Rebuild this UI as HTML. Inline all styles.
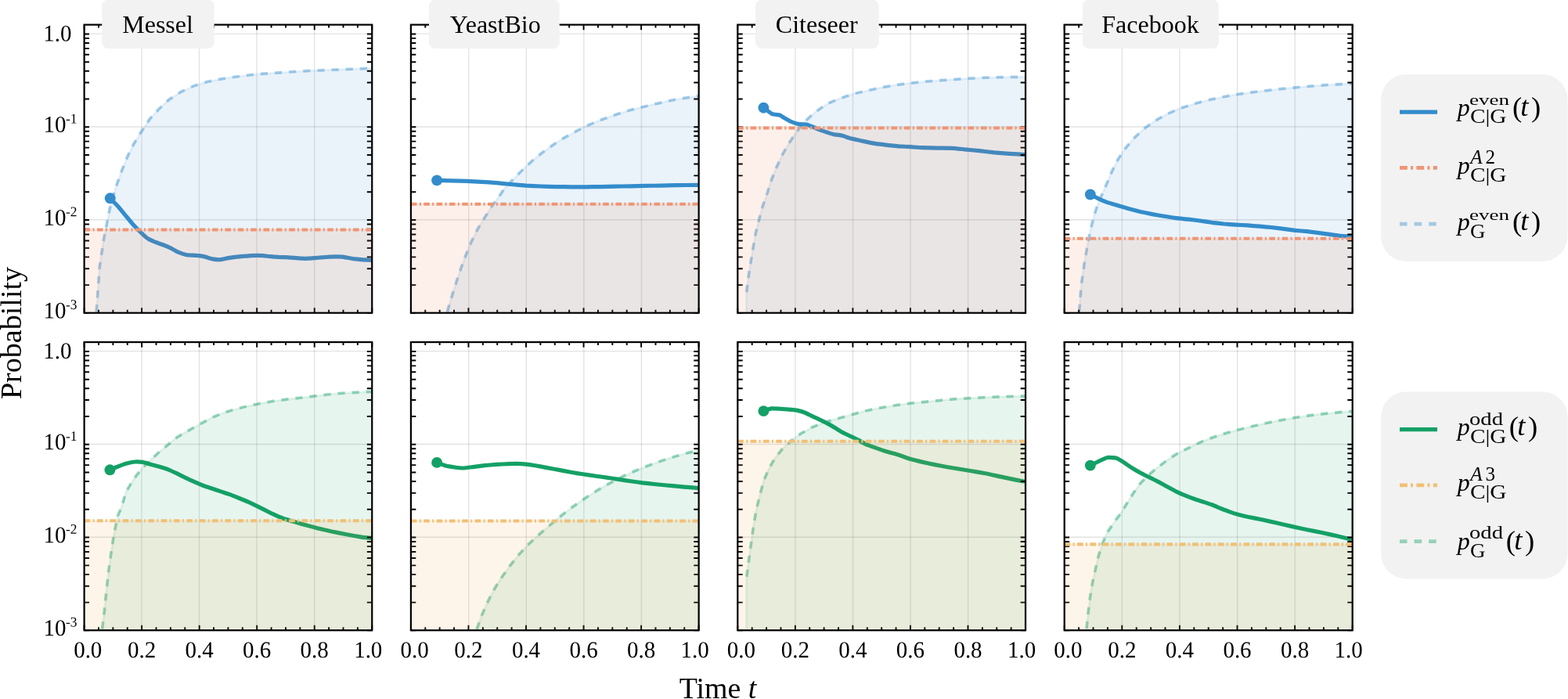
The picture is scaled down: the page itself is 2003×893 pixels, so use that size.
<!DOCTYPE html>
<html lang="en">
<head>
<meta charset="utf-8">
<title>Probability vs Time</title>
<style>
html, body { margin: 0; padding: 0; background: #ffffff; }
body { width: 2003px; height: 893px; overflow: hidden; }
svg { display: block; }
</style>
</head>
<body>
<svg width="2003" height="893" viewBox="0 0 2003 893">
<rect x="0" y="0" width="2003" height="893" fill="#ffffff"/>
<defs>
<clipPath id="cp00"><rect x="107.6" y="31.6" width="367.65" height="368.15"/></clipPath>
<clipPath id="cp01"><rect x="524.9" y="31.6" width="367.75" height="368.15"/></clipPath>
<clipPath id="cp02"><rect x="942.3" y="31.6" width="367.75" height="368.15"/></clipPath>
<clipPath id="cp03"><rect x="1359.7" y="31.6" width="368" height="368.15"/></clipPath>
<clipPath id="cp10"><rect x="107.6" y="437.1" width="367.65" height="368.15"/></clipPath>
<clipPath id="cp11"><rect x="524.9" y="437.1" width="367.75" height="368.15"/></clipPath>
<clipPath id="cp12"><rect x="942.3" y="437.1" width="367.75" height="368.15"/></clipPath>
<clipPath id="cp13"><rect x="1359.7" y="437.1" width="368" height="368.15"/></clipPath>
</defs>
<g clip-path="url(#cp00)">
<path d="M181.03 31.6 V399.75" stroke="#000000" stroke-opacity="0.115" stroke-width="1.35" fill="none"/>
<path d="M254.56 31.6 V399.75" stroke="#000000" stroke-opacity="0.115" stroke-width="1.35" fill="none"/>
<path d="M328.09 31.6 V399.75" stroke="#000000" stroke-opacity="0.115" stroke-width="1.35" fill="none"/>
<path d="M401.62 31.6 V399.75" stroke="#000000" stroke-opacity="0.115" stroke-width="1.35" fill="none"/>
<path d="M107.6 43.15 H475.25" stroke="#000000" stroke-opacity="0.115" stroke-width="1.35" fill="none"/>
<path d="M107.6 161.96 H475.25" stroke="#000000" stroke-opacity="0.115" stroke-width="1.35" fill="none"/>
<path d="M107.6 280.77 H475.25" stroke="#000000" stroke-opacity="0.115" stroke-width="1.35" fill="none"/>
<path d="M122.6 404.75 L122.6 405 L123.2 397.4 L127.2 341 L132.3 306.7 L136.3 286.5 L140.3 266.4 L145.8 246.3 L149.8 234 L155.9 217.2 L163.2 199.3 L171 183.6 L180 169 L184 163 L191.4 151.9 L202.8 139.5 L216.1 127.1 L231.4 117.2 L248.5 109.4 L265.6 104.3 L282.8 100.8 L301.8 98 L328.4 94.7 L357 92.8 L385.6 90.9 L414.1 89.6 L442.7 88.5 L475.2 87.2 L475.2 404.75 Z" fill="#338ccb" fill-opacity="0.1" stroke="#338ccb" stroke-opacity="0.1" stroke-width="2.8" stroke-linejoin="round"/>
<path d="M140.7 253.3 C141.28 253.9 149.21 261.97 150.4 263.3 C151.59 264.63 159.29 273.95 160.5 275.4 C161.71 276.85 169.39 286.17 170.6 287.5 C171.81 288.83 179.51 296.57 180.6 297.6 C181.69 298.63 187.73 304.03 188.7 304.7 C189.67 305.37 195.71 308.24 196.8 308.7 C197.89 309.16 205.69 311.84 206.9 312.3 C208.11 312.76 215.81 315.89 216.9 316.4 C217.99 316.91 224.15 320.38 225 320.8 C225.85 321.22 230.15 323.1 231 323.4 C231.85 323.7 237.89 325.63 239.1 325.8 C240.31 325.97 249.87 326.17 251.2 326.3 C252.53 326.43 260.09 327.62 261.3 327.9 C262.51 328.18 270.19 330.67 271.4 330.9 C272.61 331.13 280.38 331.76 281.5 331.7 C282.62 331.64 288.98 330.1 290.1 329.9 C291.22 329.7 298.99 328.55 300.2 328.4 C301.41 328.25 308.99 327.5 310.2 327.4 C311.41 327.3 319.21 326.76 320.3 326.7 C321.39 326.64 327.43 326.4 328.4 326.4 C329.37 326.4 335.47 326.62 336.5 326.7 C337.53 326.78 344.35 327.6 345.5 327.7 C346.65 327.8 354.39 328.34 355.6 328.4 C356.81 328.46 364.49 328.64 365.7 328.7 C366.91 328.76 374.59 329.31 375.8 329.4 C377.01 329.49 384.71 330.15 385.8 330.2 C386.89 330.25 392.93 330.24 393.9 330.2 C394.87 330.16 400.97 329.68 402 329.6 C403.03 329.52 409.85 328.99 411 328.9 C412.15 328.81 420.01 328.17 421.1 328.1 C422.19 328.03 428.23 327.8 429.2 327.8 C430.17 327.8 436.45 328.02 437.3 328.1 C438.15 328.18 442.45 329.05 443.3 329.2 C444.15 329.35 450.31 330.45 451.4 330.6 C452.49 330.75 460.29 331.6 461.5 331.7 C462.71 331.8 470.68 332.16 471.5 332.2 C472.32 332.24 474.98 332.39 475.2 332.4" stroke="#338ccb" stroke-width="5.2" fill="none" stroke-linejoin="round" stroke-linecap="butt"/>
<circle cx="140.7" cy="253.3" r="6.95" fill="#338ccb"/>
<path d="M122.6 405 L123.2 397.4 L127.2 341 L132.3 306.7 L136.3 286.5 L140.3 266.4 L145.8 246.3 L149.8 234 L155.9 217.2 L163.2 199.3 L171 183.6 L180 169 L184 163 L191.4 151.9 L202.8 139.5 L216.1 127.1 L231.4 117.2 L248.5 109.4 L265.6 104.3 L282.8 100.8 L301.8 98 L328.4 94.7 L357 92.8 L385.6 90.9 L414.1 89.6 L442.7 88.5 L475.2 87.2" stroke="#338ccb" stroke-opacity="0.41" stroke-width="3.7" stroke-dasharray="9.2 8.95" stroke-dashoffset="-6.65" fill="none" stroke-linejoin="round"/>
</g>
<path d="M107.6 399.75 v-6.6 M107.6 31.6 v6.6 M125.98 399.75 v-3.9 M125.98 31.6 v3.9 M144.37 399.75 v-3.9 M144.37 31.6 v3.9 M162.75 399.75 v-3.9 M162.75 31.6 v3.9 M181.13 399.75 v-6.6 M181.13 31.6 v6.6 M199.51 399.75 v-3.9 M199.51 31.6 v3.9 M217.89 399.75 v-3.9 M217.89 31.6 v3.9 M236.28 399.75 v-3.9 M236.28 31.6 v3.9 M254.66 399.75 v-6.6 M254.66 31.6 v6.6 M273.04 399.75 v-3.9 M273.04 31.6 v3.9 M291.42 399.75 v-3.9 M291.42 31.6 v3.9 M309.81 399.75 v-3.9 M309.81 31.6 v3.9 M328.19 399.75 v-6.6 M328.19 31.6 v6.6 M346.57 399.75 v-3.9 M346.57 31.6 v3.9 M364.96 399.75 v-3.9 M364.96 31.6 v3.9 M383.34 399.75 v-3.9 M383.34 31.6 v3.9 M401.72 399.75 v-6.6 M401.72 31.6 v6.6 M420.1 399.75 v-3.9 M420.1 31.6 v3.9 M438.49 399.75 v-3.9 M438.49 31.6 v3.9 M456.87 399.75 v-3.9 M456.87 31.6 v3.9 M475.25 399.75 v-6.6 M475.25 31.6 v6.6 M107.6 43.45 h6.4 M475.25 43.45 h-6.4 M107.6 162.26 h6.4 M475.25 162.26 h-6.4 M107.6 126.49 h6.4 M475.25 126.49 h-6.4 M107.6 105.57 h6.4 M475.25 105.57 h-6.4 M107.6 90.73 h6.4 M475.25 90.73 h-6.4 M107.6 79.22 h6.4 M475.25 79.22 h-6.4 M107.6 69.81 h6.4 M475.25 69.81 h-6.4 M107.6 61.85 h6.4 M475.25 61.85 h-6.4 M107.6 54.96 h6.4 M475.25 54.96 h-6.4 M107.6 48.89 h6.4 M475.25 48.89 h-6.4 M107.6 281.07 h6.4 M475.25 281.07 h-6.4 M107.6 245.3 h6.4 M475.25 245.3 h-6.4 M107.6 224.38 h6.4 M475.25 224.38 h-6.4 M107.6 209.54 h6.4 M475.25 209.54 h-6.4 M107.6 198.03 h6.4 M475.25 198.03 h-6.4 M107.6 188.62 h6.4 M475.25 188.62 h-6.4 M107.6 180.66 h6.4 M475.25 180.66 h-6.4 M107.6 173.77 h6.4 M475.25 173.77 h-6.4 M107.6 167.7 h6.4 M475.25 167.7 h-6.4 M107.6 399.88 h6.4 M475.25 399.88 h-6.4 M107.6 364.11 h6.4 M475.25 364.11 h-6.4 M107.6 343.19 h6.4 M475.25 343.19 h-6.4 M107.6 328.35 h6.4 M475.25 328.35 h-6.4 M107.6 316.84 h6.4 M475.25 316.84 h-6.4 M107.6 307.43 h6.4 M475.25 307.43 h-6.4 M107.6 299.47 h6.4 M475.25 299.47 h-6.4 M107.6 292.58 h6.4 M475.25 292.58 h-6.4 M107.6 286.51 h6.4 M475.25 286.51 h-6.4" stroke="#000000" stroke-width="1.9" fill="none"/>
<g clip-path="url(#cp00)">
<rect x="107.6" y="293.5" width="367.65" height="106.25" fill="#e86e32" fill-opacity="0.1"/>
<path d="M107.6 293.5 H475.25" stroke="#e86e32" stroke-opacity="0.1" stroke-width="2.8" fill="none"/>
<path d="M107.6 293.5 H475.25" stroke="#ef9573" stroke-width="4.05" stroke-dasharray="7.55 3.35 2.05 3.4" stroke-dashoffset="0" fill="none"/>
</g>
<rect x="107.6" y="31.6" width="367.65" height="368.15" fill="none" stroke="#000000" stroke-width="2.2"/>
<g clip-path="url(#cp01)">
<path d="M598.75 31.6 V399.75" stroke="#000000" stroke-opacity="0.115" stroke-width="1.35" fill="none"/>
<path d="M672.3 31.6 V399.75" stroke="#000000" stroke-opacity="0.115" stroke-width="1.35" fill="none"/>
<path d="M745.85 31.6 V399.75" stroke="#000000" stroke-opacity="0.115" stroke-width="1.35" fill="none"/>
<path d="M819.4 31.6 V399.75" stroke="#000000" stroke-opacity="0.115" stroke-width="1.35" fill="none"/>
<path d="M524.9 43.15 H892.65" stroke="#000000" stroke-opacity="0.115" stroke-width="1.35" fill="none"/>
<path d="M524.9 161.96 H892.65" stroke="#000000" stroke-opacity="0.115" stroke-width="1.35" fill="none"/>
<path d="M524.9 280.77 H892.65" stroke="#000000" stroke-opacity="0.115" stroke-width="1.35" fill="none"/>
<path d="M569.3 404.75 L569.3 405 L571.4 397.9 L577.1 378.9 L582.8 360.8 L588.5 343.7 L595.2 325.6 L601.8 309.5 L610.4 292.3 L619 278.1 L629.4 261.9 L639.9 247.6 L643.7 241.8 L653.3 231.4 L662.8 221.8 L672.3 212.3 L681.8 203.8 L691.3 196.1 L700.9 189.1 L710.4 182.4 L719.9 176.5 L729.4 171.4 L738.9 166.2 L748.4 161.3 L758 157.1 L767.5 153.3 L777 149.9 L786.5 146.6 L796 143.4 L805.6 140.5 L815.1 138.1 L824.6 135.8 L834.1 133.5 L843.6 131.4 L853.1 129.1 L862.7 127.2 L872.2 125.7 L881.7 124.2 L892.4 122.6 L892.4 404.75 Z" fill="#338ccb" fill-opacity="0.1" stroke="#338ccb" stroke-opacity="0.1" stroke-width="2.8" stroke-linejoin="round"/>
<path d="M558.1 230.4 C559.24 230.42 574.82 230.74 577.1 230.8 C579.38 230.86 593.81 231.31 596.1 231.4 C598.39 231.49 612.91 232.17 615.2 232.3 C617.49 232.43 631.91 233.41 634.2 233.6 C636.49 233.79 651.01 235.29 653.3 235.5 C655.59 235.71 670.02 236.95 672.3 237.1 C674.58 237.25 689.01 237.91 691.3 238 C693.59 238.09 708.11 238.55 710.4 238.6 C712.69 238.65 727.12 238.79 729.4 238.8 C731.68 238.81 746.11 238.81 748.4 238.8 C750.69 238.79 765.21 238.64 767.5 238.6 C769.79 238.56 784.21 238.25 786.5 238.2 C788.79 238.15 803.31 237.85 805.6 237.8 C807.89 237.75 822.32 237.44 824.6 237.4 C826.88 237.36 841.31 237.14 843.6 237.1 C845.89 237.06 859.77 236.75 862.7 236.7 C865.63 236.65 890.62 236.32 892.4 236.3" stroke="#338ccb" stroke-width="5.2" fill="none" stroke-linejoin="round" stroke-linecap="butt"/>
<circle cx="558.1" cy="230.4" r="6.95" fill="#338ccb"/>
<path d="M569.3 405 L571.4 397.9 L577.1 378.9 L582.8 360.8 L588.5 343.7 L595.2 325.6 L601.8 309.5 L610.4 292.3 L619 278.1 L629.4 261.9 L639.9 247.6 L643.7 241.8 L653.3 231.4 L662.8 221.8 L672.3 212.3 L681.8 203.8 L691.3 196.1 L700.9 189.1 L710.4 182.4 L719.9 176.5 L729.4 171.4 L738.9 166.2 L748.4 161.3 L758 157.1 L767.5 153.3 L777 149.9 L786.5 146.6 L796 143.4 L805.6 140.5 L815.1 138.1 L824.6 135.8 L834.1 133.5 L843.6 131.4 L853.1 129.1 L862.7 127.2 L872.2 125.7 L881.7 124.2 L892.4 122.6" stroke="#338ccb" stroke-opacity="0.41" stroke-width="3.7" stroke-dasharray="9.2 8.95" stroke-dashoffset="-7" fill="none" stroke-linejoin="round"/>
</g>
<path d="M524.9 399.75 v-6.6 M524.9 31.6 v6.6 M543.29 399.75 v-3.9 M543.29 31.6 v3.9 M561.67 399.75 v-3.9 M561.67 31.6 v3.9 M580.06 399.75 v-3.9 M580.06 31.6 v3.9 M598.45 399.75 v-6.6 M598.45 31.6 v6.6 M616.84 399.75 v-3.9 M616.84 31.6 v3.9 M635.22 399.75 v-3.9 M635.22 31.6 v3.9 M653.61 399.75 v-3.9 M653.61 31.6 v3.9 M672 399.75 v-6.6 M672 31.6 v6.6 M690.39 399.75 v-3.9 M690.39 31.6 v3.9 M708.77 399.75 v-3.9 M708.77 31.6 v3.9 M727.16 399.75 v-3.9 M727.16 31.6 v3.9 M745.55 399.75 v-6.6 M745.55 31.6 v6.6 M763.94 399.75 v-3.9 M763.94 31.6 v3.9 M782.33 399.75 v-3.9 M782.33 31.6 v3.9 M800.71 399.75 v-3.9 M800.71 31.6 v3.9 M819.1 399.75 v-6.6 M819.1 31.6 v6.6 M837.49 399.75 v-3.9 M837.49 31.6 v3.9 M855.88 399.75 v-3.9 M855.88 31.6 v3.9 M874.26 399.75 v-3.9 M874.26 31.6 v3.9 M892.65 399.75 v-6.6 M892.65 31.6 v6.6 M524.9 43.45 h6.4 M892.65 43.45 h-6.4 M524.9 162.26 h6.4 M892.65 162.26 h-6.4 M524.9 126.49 h6.4 M892.65 126.49 h-6.4 M524.9 105.57 h6.4 M892.65 105.57 h-6.4 M524.9 90.73 h6.4 M892.65 90.73 h-6.4 M524.9 79.22 h6.4 M892.65 79.22 h-6.4 M524.9 69.81 h6.4 M892.65 69.81 h-6.4 M524.9 61.85 h6.4 M892.65 61.85 h-6.4 M524.9 54.96 h6.4 M892.65 54.96 h-6.4 M524.9 48.89 h6.4 M892.65 48.89 h-6.4 M524.9 281.07 h6.4 M892.65 281.07 h-6.4 M524.9 245.3 h6.4 M892.65 245.3 h-6.4 M524.9 224.38 h6.4 M892.65 224.38 h-6.4 M524.9 209.54 h6.4 M892.65 209.54 h-6.4 M524.9 198.03 h6.4 M892.65 198.03 h-6.4 M524.9 188.62 h6.4 M892.65 188.62 h-6.4 M524.9 180.66 h6.4 M892.65 180.66 h-6.4 M524.9 173.77 h6.4 M892.65 173.77 h-6.4 M524.9 167.7 h6.4 M892.65 167.7 h-6.4 M524.9 399.88 h6.4 M892.65 399.88 h-6.4 M524.9 364.11 h6.4 M892.65 364.11 h-6.4 M524.9 343.19 h6.4 M892.65 343.19 h-6.4 M524.9 328.35 h6.4 M892.65 328.35 h-6.4 M524.9 316.84 h6.4 M892.65 316.84 h-6.4 M524.9 307.43 h6.4 M892.65 307.43 h-6.4 M524.9 299.47 h6.4 M892.65 299.47 h-6.4 M524.9 292.58 h6.4 M892.65 292.58 h-6.4 M524.9 286.51 h6.4 M892.65 286.51 h-6.4" stroke="#000000" stroke-width="1.9" fill="none"/>
<g clip-path="url(#cp01)">
<rect x="524.9" y="260.7" width="367.75" height="139.05" fill="#e86e32" fill-opacity="0.1"/>
<path d="M524.9 260.7 H892.65" stroke="#e86e32" stroke-opacity="0.1" stroke-width="2.8" fill="none"/>
<path d="M524.9 260.7 H892.65" stroke="#ef9573" stroke-width="4.05" stroke-dasharray="7.55 3.35 2.05 3.4" stroke-dashoffset="0" fill="none"/>
</g>
<rect x="524.9" y="31.6" width="367.75" height="368.15" fill="none" stroke="#000000" stroke-width="2.2"/>
<g clip-path="url(#cp02)">
<path d="M1015.95 31.6 V399.75" stroke="#000000" stroke-opacity="0.115" stroke-width="1.35" fill="none"/>
<path d="M1089.5 31.6 V399.75" stroke="#000000" stroke-opacity="0.115" stroke-width="1.35" fill="none"/>
<path d="M1163.05 31.6 V399.75" stroke="#000000" stroke-opacity="0.115" stroke-width="1.35" fill="none"/>
<path d="M1236.6 31.6 V399.75" stroke="#000000" stroke-opacity="0.115" stroke-width="1.35" fill="none"/>
<path d="M942.3 43.15 H1310.05" stroke="#000000" stroke-opacity="0.115" stroke-width="1.35" fill="none"/>
<path d="M942.3 161.96 H1310.05" stroke="#000000" stroke-opacity="0.115" stroke-width="1.35" fill="none"/>
<path d="M942.3 280.77 H1310.05" stroke="#000000" stroke-opacity="0.115" stroke-width="1.35" fill="none"/>
<path d="M953.5 404.75 L953.5 374.2 L956.2 353 L959.2 333.8 L962.2 315.7 L965.2 298.5 L969.7 280.4 L974.3 263.3 L980.4 246.1 L984.5 232.3 L992.1 213.3 L999.7 197.1 L1007.3 183.7 L1015 172.3 L1022.6 161.9 L1030.2 153.3 L1039.7 144.7 L1049.2 137.7 L1058.7 131.8 L1068.3 127.6 L1079.7 123.4 L1091.1 119.6 L1106.3 116.2 L1125.4 111.8 L1144.4 108.6 L1163.4 106.1 L1182.5 104.2 L1201.5 102.7 L1220.6 101.3 L1239.6 100.2 L1258.6 99.2 L1277.7 98.7 L1309.6 98.1 L1309.6 404.75 Z" fill="#338ccb" fill-opacity="0.1" stroke="#338ccb" stroke-opacity="0.1" stroke-width="2.8" stroke-linejoin="round"/>
<path d="M975.4 137.7 C976.06 138.18 985.17 145.14 986.4 145.7 C987.63 146.26 994.99 146.72 995.9 147 C996.81 147.28 1000.69 149.88 1001.6 150.4 C1002.51 150.92 1009.95 155.11 1011.1 155.6 C1012.25 156.09 1019.55 158.4 1020.7 158.6 C1021.85 158.8 1029.17 158.8 1030.2 159 C1031.23 159.2 1036.66 161.44 1037.8 161.9 C1038.94 162.36 1047.6 166.03 1049.2 166.6 C1050.8 167.17 1062.8 171 1064.4 171.4 C1066 171.8 1074.53 172.96 1075.9 173.3 C1077.27 173.64 1085.7 176.68 1087.3 177.1 C1088.9 177.52 1100.67 179.92 1102.5 180.3 C1104.33 180.68 1115.97 183.1 1117.8 183.4 C1119.63 183.7 1131.18 185.1 1133 185.3 C1134.82 185.5 1146.38 186.66 1148.2 186.8 C1150.02 186.94 1161.57 187.59 1163.4 187.7 C1165.23 187.81 1176.64 188.62 1178.7 188.7 C1180.76 188.78 1195.42 189.06 1197.7 189.1 C1199.98 189.14 1214.64 189.2 1216.7 189.3 C1218.76 189.4 1229.94 190.6 1232 190.8 C1234.06 191 1248.72 192.46 1251 192.7 C1253.28 192.94 1267.71 194.58 1270 194.8 C1272.29 195.02 1286.72 196.13 1289.1 196.3 C1291.48 196.47 1308.37 197.52 1309.6 197.6" stroke="#338ccb" stroke-width="5.2" fill="none" stroke-linejoin="round" stroke-linecap="butt"/>
<circle cx="975.4" cy="137.7" r="6.95" fill="#338ccb"/>
<path d="M953.5 374.2 L956.2 353 L959.2 333.8 L962.2 315.7 L965.2 298.5 L969.7 280.4 L974.3 263.3 L980.4 246.1 L984.5 232.3 L992.1 213.3 L999.7 197.1 L1007.3 183.7 L1015 172.3 L1022.6 161.9 L1030.2 153.3 L1039.7 144.7 L1049.2 137.7 L1058.7 131.8 L1068.3 127.6 L1079.7 123.4 L1091.1 119.6 L1106.3 116.2 L1125.4 111.8 L1144.4 108.6 L1163.4 106.1 L1182.5 104.2 L1201.5 102.7 L1220.6 101.3 L1239.6 100.2 L1258.6 99.2 L1277.7 98.7 L1309.6 98.1" stroke="#338ccb" stroke-opacity="0.41" stroke-width="3.7" stroke-dasharray="9.2 8.95" stroke-dashoffset="-1" fill="none" stroke-linejoin="round"/>
</g>
<path d="M942.3 399.75 v-6.6 M942.3 31.6 v6.6 M960.69 399.75 v-3.9 M960.69 31.6 v3.9 M979.07 399.75 v-3.9 M979.07 31.6 v3.9 M997.46 399.75 v-3.9 M997.46 31.6 v3.9 M1015.85 399.75 v-6.6 M1015.85 31.6 v6.6 M1034.24 399.75 v-3.9 M1034.24 31.6 v3.9 M1052.62 399.75 v-3.9 M1052.62 31.6 v3.9 M1071.01 399.75 v-3.9 M1071.01 31.6 v3.9 M1089.4 399.75 v-6.6 M1089.4 31.6 v6.6 M1107.79 399.75 v-3.9 M1107.79 31.6 v3.9 M1126.17 399.75 v-3.9 M1126.17 31.6 v3.9 M1144.56 399.75 v-3.9 M1144.56 31.6 v3.9 M1162.95 399.75 v-6.6 M1162.95 31.6 v6.6 M1181.34 399.75 v-3.9 M1181.34 31.6 v3.9 M1199.72 399.75 v-3.9 M1199.72 31.6 v3.9 M1218.11 399.75 v-3.9 M1218.11 31.6 v3.9 M1236.5 399.75 v-6.6 M1236.5 31.6 v6.6 M1254.89 399.75 v-3.9 M1254.89 31.6 v3.9 M1273.27 399.75 v-3.9 M1273.27 31.6 v3.9 M1291.66 399.75 v-3.9 M1291.66 31.6 v3.9 M1310.05 399.75 v-6.6 M1310.05 31.6 v6.6 M942.3 43.45 h6.4 M1310.05 43.45 h-6.4 M942.3 162.26 h6.4 M1310.05 162.26 h-6.4 M942.3 126.49 h6.4 M1310.05 126.49 h-6.4 M942.3 105.57 h6.4 M1310.05 105.57 h-6.4 M942.3 90.73 h6.4 M1310.05 90.73 h-6.4 M942.3 79.22 h6.4 M1310.05 79.22 h-6.4 M942.3 69.81 h6.4 M1310.05 69.81 h-6.4 M942.3 61.85 h6.4 M1310.05 61.85 h-6.4 M942.3 54.96 h6.4 M1310.05 54.96 h-6.4 M942.3 48.89 h6.4 M1310.05 48.89 h-6.4 M942.3 281.07 h6.4 M1310.05 281.07 h-6.4 M942.3 245.3 h6.4 M1310.05 245.3 h-6.4 M942.3 224.38 h6.4 M1310.05 224.38 h-6.4 M942.3 209.54 h6.4 M1310.05 209.54 h-6.4 M942.3 198.03 h6.4 M1310.05 198.03 h-6.4 M942.3 188.62 h6.4 M1310.05 188.62 h-6.4 M942.3 180.66 h6.4 M1310.05 180.66 h-6.4 M942.3 173.77 h6.4 M1310.05 173.77 h-6.4 M942.3 167.7 h6.4 M1310.05 167.7 h-6.4 M942.3 399.88 h6.4 M1310.05 399.88 h-6.4 M942.3 364.11 h6.4 M1310.05 364.11 h-6.4 M942.3 343.19 h6.4 M1310.05 343.19 h-6.4 M942.3 328.35 h6.4 M1310.05 328.35 h-6.4 M942.3 316.84 h6.4 M1310.05 316.84 h-6.4 M942.3 307.43 h6.4 M1310.05 307.43 h-6.4 M942.3 299.47 h6.4 M1310.05 299.47 h-6.4 M942.3 292.58 h6.4 M1310.05 292.58 h-6.4 M942.3 286.51 h6.4 M1310.05 286.51 h-6.4" stroke="#000000" stroke-width="1.9" fill="none"/>
<g clip-path="url(#cp02)">
<rect x="942.3" y="163.4" width="367.75" height="236.35" fill="#e86e32" fill-opacity="0.1"/>
<path d="M942.3 163.4 H1310.05" stroke="#e86e32" stroke-opacity="0.1" stroke-width="2.8" fill="none"/>
<path d="M942.3 163.4 H1310.05" stroke="#ef9573" stroke-width="4.05" stroke-dasharray="7.55 3.35 2.05 3.4" stroke-dashoffset="0" fill="none"/>
</g>
<rect x="942.3" y="31.6" width="367.75" height="368.15" fill="none" stroke="#000000" stroke-width="2.2"/>
<g clip-path="url(#cp03)">
<path d="M1433.4 31.6 V399.75" stroke="#000000" stroke-opacity="0.115" stroke-width="1.35" fill="none"/>
<path d="M1507 31.6 V399.75" stroke="#000000" stroke-opacity="0.115" stroke-width="1.35" fill="none"/>
<path d="M1580.6 31.6 V399.75" stroke="#000000" stroke-opacity="0.115" stroke-width="1.35" fill="none"/>
<path d="M1654.2 31.6 V399.75" stroke="#000000" stroke-opacity="0.115" stroke-width="1.35" fill="none"/>
<path d="M1359.7 43.15 H1727.7" stroke="#000000" stroke-opacity="0.115" stroke-width="1.35" fill="none"/>
<path d="M1359.7 161.96 H1727.7" stroke="#000000" stroke-opacity="0.115" stroke-width="1.35" fill="none"/>
<path d="M1359.7 280.77 H1727.7" stroke="#000000" stroke-opacity="0.115" stroke-width="1.35" fill="none"/>
<path d="M1378.1 404.75 L1378.1 405 L1378.6 397.5 L1381.4 363.3 L1385.2 336.6 L1389 313.8 L1392.8 294.7 L1397.6 275.7 L1402.4 260.5 L1407.1 250 L1412.8 237.1 L1420.4 219 L1428.1 203.7 L1437.6 189.5 L1449 176.1 L1462.3 163.8 L1475.6 154.2 L1490.9 145.7 L1506.1 139 L1521.3 133.9 L1540.4 128.5 L1559.4 124.4 L1578.4 120.9 L1597.5 118.1 L1616.5 115.8 L1635.6 113.7 L1654.6 111.8 L1673.6 110.1 L1692.7 108.7 L1711.7 107.6 L1726.8 106.7 L1726.8 404.75 Z" fill="#338ccb" fill-opacity="0.1" stroke="#338ccb" stroke-opacity="0.1" stroke-width="2.8" stroke-linejoin="round"/>
<path d="M1392.8 248.5 C1393.43 248.82 1401.99 253.19 1403.3 253.8 C1404.61 254.41 1413.33 258.11 1414.7 258.6 C1416.07 259.09 1424.5 261.52 1426.1 262 C1427.7 262.48 1439.57 266.09 1441.4 266.6 C1443.23 267.11 1454.78 270.08 1456.6 270.5 C1458.42 270.92 1469.97 273.25 1471.8 273.6 C1473.63 273.95 1485.27 275.99 1487.1 276.3 C1488.93 276.61 1500.48 278.47 1502.3 278.7 C1504.12 278.93 1515.67 279.9 1517.5 280.1 C1519.33 280.3 1530.97 281.75 1532.8 282 C1534.63 282.25 1546.18 284.06 1548 284.3 C1549.82 284.54 1561.38 285.83 1563.2 286 C1565.02 286.17 1576.57 286.99 1578.4 287.1 C1580.23 287.21 1591.87 287.77 1593.7 287.9 C1595.53 288.03 1607.08 289.04 1608.9 289.2 C1610.72 289.36 1622.27 290.31 1624.1 290.5 C1625.93 290.69 1637.57 292.17 1639.4 292.4 C1641.23 292.63 1652.78 294.1 1654.6 294.3 C1656.42 294.5 1667.98 295.5 1669.8 295.7 C1671.62 295.9 1683.17 297.36 1685 297.6 C1686.83 297.84 1698.7 299.47 1700.3 299.7 C1701.9 299.93 1710.11 301.24 1711.7 301.4 C1713.29 301.56 1725.89 302.25 1726.8 302.3" stroke="#338ccb" stroke-width="5.2" fill="none" stroke-linejoin="round" stroke-linecap="butt"/>
<circle cx="1392.8" cy="248.5" r="6.95" fill="#338ccb"/>
<path d="M1378.1 405 L1378.6 397.5 L1381.4 363.3 L1385.2 336.6 L1389 313.8 L1392.8 294.7 L1397.6 275.7 L1402.4 260.5 L1407.1 250 L1412.8 237.1 L1420.4 219 L1428.1 203.7 L1437.6 189.5 L1449 176.1 L1462.3 163.8 L1475.6 154.2 L1490.9 145.7 L1506.1 139 L1521.3 133.9 L1540.4 128.5 L1559.4 124.4 L1578.4 120.9 L1597.5 118.1 L1616.5 115.8 L1635.6 113.7 L1654.6 111.8 L1673.6 110.1 L1692.7 108.7 L1711.7 107.6 L1726.8 106.7" stroke="#338ccb" stroke-opacity="0.41" stroke-width="3.7" stroke-dasharray="9.2 8.95" stroke-dashoffset="-7" fill="none" stroke-linejoin="round"/>
</g>
<path d="M1359.7 399.75 v-6.6 M1359.7 31.6 v6.6 M1378.1 399.75 v-3.9 M1378.1 31.6 v3.9 M1396.5 399.75 v-3.9 M1396.5 31.6 v3.9 M1414.9 399.75 v-3.9 M1414.9 31.6 v3.9 M1433.3 399.75 v-6.6 M1433.3 31.6 v6.6 M1451.7 399.75 v-3.9 M1451.7 31.6 v3.9 M1470.1 399.75 v-3.9 M1470.1 31.6 v3.9 M1488.5 399.75 v-3.9 M1488.5 31.6 v3.9 M1506.9 399.75 v-6.6 M1506.9 31.6 v6.6 M1525.3 399.75 v-3.9 M1525.3 31.6 v3.9 M1543.7 399.75 v-3.9 M1543.7 31.6 v3.9 M1562.1 399.75 v-3.9 M1562.1 31.6 v3.9 M1580.5 399.75 v-6.6 M1580.5 31.6 v6.6 M1598.9 399.75 v-3.9 M1598.9 31.6 v3.9 M1617.3 399.75 v-3.9 M1617.3 31.6 v3.9 M1635.7 399.75 v-3.9 M1635.7 31.6 v3.9 M1654.1 399.75 v-6.6 M1654.1 31.6 v6.6 M1672.5 399.75 v-3.9 M1672.5 31.6 v3.9 M1690.9 399.75 v-3.9 M1690.9 31.6 v3.9 M1709.3 399.75 v-3.9 M1709.3 31.6 v3.9 M1727.7 399.75 v-6.6 M1727.7 31.6 v6.6 M1359.7 43.45 h6.4 M1727.7 43.45 h-6.4 M1359.7 162.26 h6.4 M1727.7 162.26 h-6.4 M1359.7 126.49 h6.4 M1727.7 126.49 h-6.4 M1359.7 105.57 h6.4 M1727.7 105.57 h-6.4 M1359.7 90.73 h6.4 M1727.7 90.73 h-6.4 M1359.7 79.22 h6.4 M1727.7 79.22 h-6.4 M1359.7 69.81 h6.4 M1727.7 69.81 h-6.4 M1359.7 61.85 h6.4 M1727.7 61.85 h-6.4 M1359.7 54.96 h6.4 M1727.7 54.96 h-6.4 M1359.7 48.89 h6.4 M1727.7 48.89 h-6.4 M1359.7 281.07 h6.4 M1727.7 281.07 h-6.4 M1359.7 245.3 h6.4 M1727.7 245.3 h-6.4 M1359.7 224.38 h6.4 M1727.7 224.38 h-6.4 M1359.7 209.54 h6.4 M1727.7 209.54 h-6.4 M1359.7 198.03 h6.4 M1727.7 198.03 h-6.4 M1359.7 188.62 h6.4 M1727.7 188.62 h-6.4 M1359.7 180.66 h6.4 M1727.7 180.66 h-6.4 M1359.7 173.77 h6.4 M1727.7 173.77 h-6.4 M1359.7 167.7 h6.4 M1727.7 167.7 h-6.4 M1359.7 399.88 h6.4 M1727.7 399.88 h-6.4 M1359.7 364.11 h6.4 M1727.7 364.11 h-6.4 M1359.7 343.19 h6.4 M1727.7 343.19 h-6.4 M1359.7 328.35 h6.4 M1727.7 328.35 h-6.4 M1359.7 316.84 h6.4 M1727.7 316.84 h-6.4 M1359.7 307.43 h6.4 M1727.7 307.43 h-6.4 M1359.7 299.47 h6.4 M1727.7 299.47 h-6.4 M1359.7 292.58 h6.4 M1727.7 292.58 h-6.4 M1359.7 286.51 h6.4 M1727.7 286.51 h-6.4" stroke="#000000" stroke-width="1.9" fill="none"/>
<g clip-path="url(#cp03)">
<rect x="1359.7" y="304.8" width="368" height="94.95" fill="#e86e32" fill-opacity="0.1"/>
<path d="M1359.7 304.8 H1727.7" stroke="#e86e32" stroke-opacity="0.1" stroke-width="2.8" fill="none"/>
<path d="M1359.7 304.8 H1727.7" stroke="#ef9573" stroke-width="4.05" stroke-dasharray="7.55 3.35 2.05 3.4" stroke-dashoffset="0" fill="none"/>
</g>
<rect x="1359.7" y="31.6" width="368" height="368.15" fill="none" stroke="#000000" stroke-width="2.2"/>
<g clip-path="url(#cp10)">
<path d="M181.03 437.1 V805.25" stroke="#000000" stroke-opacity="0.115" stroke-width="1.35" fill="none"/>
<path d="M254.56 437.1 V805.25" stroke="#000000" stroke-opacity="0.115" stroke-width="1.35" fill="none"/>
<path d="M328.09 437.1 V805.25" stroke="#000000" stroke-opacity="0.115" stroke-width="1.35" fill="none"/>
<path d="M401.62 437.1 V805.25" stroke="#000000" stroke-opacity="0.115" stroke-width="1.35" fill="none"/>
<path d="M107.6 448.65 H475.25" stroke="#000000" stroke-opacity="0.115" stroke-width="1.35" fill="none"/>
<path d="M107.6 567.46 H475.25" stroke="#000000" stroke-opacity="0.115" stroke-width="1.35" fill="none"/>
<path d="M107.6 686.27 H475.25" stroke="#000000" stroke-opacity="0.115" stroke-width="1.35" fill="none"/>
<path d="M129.7 810.25 L129.7 810 L130.5 803.7 L133.3 780.9 L136.2 752.3 L139 727.6 L141.9 706.6 L145.7 681.9 L150.4 659 L154.3 650 L157.1 641.8 L160.9 628.5 L166.6 619 L174.2 607.5 L181.9 598 L191.4 588.5 L202.8 578 L214.2 568.5 L225.6 559 L237.1 552 L248.5 545.7 L259.9 539.4 L271.3 533.3 L282.8 528.5 L294.2 524.7 L309.4 520.5 L328.4 516.2 L347.5 512.7 L366.5 510.1 L385.6 508 L404.6 505.7 L423.6 503.4 L442.7 501.9 L461.7 500.9 L475.2 500.3 L475.2 810.25 Z" fill="#14a066" fill-opacity="0.1" stroke="#14a066" stroke-opacity="0.1" stroke-width="2.8" stroke-linejoin="round"/>
<path d="M140.4 600.3 C140.95 600.07 148.27 596.98 149.5 596.5 C150.73 596.02 159.53 592.69 160.9 592.3 C162.27 591.91 171.04 590.11 172.3 590 C173.56 589.89 180.75 590.23 181.9 590.4 C183.05 590.57 190.15 592.56 191.4 592.9 C192.65 593.24 201.43 595.7 202.8 596.1 C204.17 596.5 212.83 599.08 214.2 599.6 C215.57 600.12 224.23 604.05 225.6 604.7 C226.97 605.35 235.73 609.74 237.1 610.4 C238.47 611.06 247.13 615.09 248.5 615.7 C249.87 616.31 258.53 619.98 259.9 620.5 C261.27 621.02 269.93 623.84 271.3 624.3 C272.67 624.76 281.43 627.64 282.8 628.1 C284.17 628.56 292.83 631.4 294.2 631.9 C295.57 632.4 304.23 635.94 305.6 636.5 C306.97 637.06 315.63 640.59 317 641.2 C318.37 641.81 326.57 645.7 328.4 646.6 C330.23 647.5 345.44 655.23 347.5 656.2 C349.56 657.17 361.1 662.21 362.7 662.8 C364.3 663.39 372.73 665.7 374.1 666.1 C375.47 666.5 383.77 668.99 385.6 669.5 C387.43 670.01 402.32 674.03 404.6 674.6 C406.88 675.17 421.31 678.51 423.6 679 C425.89 679.49 440.41 682.37 442.7 682.8 C444.99 683.23 459.75 685.81 461.7 686.1 C463.65 686.39 474.39 687.6 475.2 687.7" stroke="#14a066" stroke-width="5.2" fill="none" stroke-linejoin="round" stroke-linecap="butt"/>
<circle cx="140.4" cy="600.3" r="6.95" fill="#14a066"/>
<path d="M129.7 810 L130.5 803.7 L133.3 780.9 L136.2 752.3 L139 727.6 L141.9 706.6 L145.7 681.9 L150.4 659 L154.3 650 L157.1 641.8 L160.9 628.5 L166.6 619 L174.2 607.5 L181.9 598 L191.4 588.5 L202.8 578 L214.2 568.5 L225.6 559 L237.1 552 L248.5 545.7 L259.9 539.4 L271.3 533.3 L282.8 528.5 L294.2 524.7 L309.4 520.5 L328.4 516.2 L347.5 512.7 L366.5 510.1 L385.6 508 L404.6 505.7 L423.6 503.4 L442.7 501.9 L461.7 500.9 L475.2 500.3" stroke="#14a066" stroke-opacity="0.41" stroke-width="3.7" stroke-dasharray="9.2 8.95" stroke-dashoffset="-6.65" fill="none" stroke-linejoin="round"/>
</g>
<path d="M107.6 805.25 v-6.6 M107.6 437.1 v6.6 M125.98 805.25 v-3.9 M125.98 437.1 v3.9 M144.37 805.25 v-3.9 M144.37 437.1 v3.9 M162.75 805.25 v-3.9 M162.75 437.1 v3.9 M181.13 805.25 v-6.6 M181.13 437.1 v6.6 M199.51 805.25 v-3.9 M199.51 437.1 v3.9 M217.89 805.25 v-3.9 M217.89 437.1 v3.9 M236.28 805.25 v-3.9 M236.28 437.1 v3.9 M254.66 805.25 v-6.6 M254.66 437.1 v6.6 M273.04 805.25 v-3.9 M273.04 437.1 v3.9 M291.42 805.25 v-3.9 M291.42 437.1 v3.9 M309.81 805.25 v-3.9 M309.81 437.1 v3.9 M328.19 805.25 v-6.6 M328.19 437.1 v6.6 M346.57 805.25 v-3.9 M346.57 437.1 v3.9 M364.96 805.25 v-3.9 M364.96 437.1 v3.9 M383.34 805.25 v-3.9 M383.34 437.1 v3.9 M401.72 805.25 v-6.6 M401.72 437.1 v6.6 M420.1 805.25 v-3.9 M420.1 437.1 v3.9 M438.49 805.25 v-3.9 M438.49 437.1 v3.9 M456.87 805.25 v-3.9 M456.87 437.1 v3.9 M475.25 805.25 v-6.6 M475.25 437.1 v6.6 M107.6 448.95 h6.4 M475.25 448.95 h-6.4 M107.6 567.76 h6.4 M475.25 567.76 h-6.4 M107.6 531.99 h6.4 M475.25 531.99 h-6.4 M107.6 511.07 h6.4 M475.25 511.07 h-6.4 M107.6 496.23 h6.4 M475.25 496.23 h-6.4 M107.6 484.72 h6.4 M475.25 484.72 h-6.4 M107.6 475.31 h6.4 M475.25 475.31 h-6.4 M107.6 467.35 h6.4 M475.25 467.35 h-6.4 M107.6 460.46 h6.4 M475.25 460.46 h-6.4 M107.6 454.39 h6.4 M475.25 454.39 h-6.4 M107.6 686.57 h6.4 M475.25 686.57 h-6.4 M107.6 650.8 h6.4 M475.25 650.8 h-6.4 M107.6 629.88 h6.4 M475.25 629.88 h-6.4 M107.6 615.04 h6.4 M475.25 615.04 h-6.4 M107.6 603.53 h6.4 M475.25 603.53 h-6.4 M107.6 594.12 h6.4 M475.25 594.12 h-6.4 M107.6 586.16 h6.4 M475.25 586.16 h-6.4 M107.6 579.27 h6.4 M475.25 579.27 h-6.4 M107.6 573.2 h6.4 M475.25 573.2 h-6.4 M107.6 805.38 h6.4 M475.25 805.38 h-6.4 M107.6 769.61 h6.4 M475.25 769.61 h-6.4 M107.6 748.69 h6.4 M475.25 748.69 h-6.4 M107.6 733.85 h6.4 M475.25 733.85 h-6.4 M107.6 722.34 h6.4 M475.25 722.34 h-6.4 M107.6 712.93 h6.4 M475.25 712.93 h-6.4 M107.6 704.97 h6.4 M475.25 704.97 h-6.4 M107.6 698.08 h6.4 M475.25 698.08 h-6.4 M107.6 692.01 h6.4 M475.25 692.01 h-6.4" stroke="#000000" stroke-width="1.9" fill="none"/>
<g clip-path="url(#cp10)">
<rect x="107.6" y="665.3" width="367.65" height="139.95" fill="#f0a030" fill-opacity="0.1"/>
<path d="M107.6 665.3 H475.25" stroke="#f0a030" stroke-opacity="0.1" stroke-width="2.8" fill="none"/>
<path d="M107.6 665.3 H475.25" stroke="#f1c076" stroke-width="4.05" stroke-dasharray="7.55 3.35 2.05 3.4" stroke-dashoffset="0" fill="none"/>
</g>
<rect x="107.6" y="437.1" width="367.65" height="368.15" fill="none" stroke="#000000" stroke-width="2.2"/>
<g clip-path="url(#cp11)">
<path d="M598.75 437.1 V805.25" stroke="#000000" stroke-opacity="0.115" stroke-width="1.35" fill="none"/>
<path d="M672.3 437.1 V805.25" stroke="#000000" stroke-opacity="0.115" stroke-width="1.35" fill="none"/>
<path d="M745.85 437.1 V805.25" stroke="#000000" stroke-opacity="0.115" stroke-width="1.35" fill="none"/>
<path d="M819.4 437.1 V805.25" stroke="#000000" stroke-opacity="0.115" stroke-width="1.35" fill="none"/>
<path d="M524.9 448.65 H892.65" stroke="#000000" stroke-opacity="0.115" stroke-width="1.35" fill="none"/>
<path d="M524.9 567.46 H892.65" stroke="#000000" stroke-opacity="0.115" stroke-width="1.35" fill="none"/>
<path d="M524.9 686.27 H892.65" stroke="#000000" stroke-opacity="0.115" stroke-width="1.35" fill="none"/>
<path d="M607 810.25 L607 810 L609.1 803.7 L615.2 786.6 L622.8 769.4 L630.4 754.2 L639.9 739 L651.4 722.8 L662.8 708.5 L674.2 696.2 L687.5 683.8 L700.8 672.4 L714.2 660.9 L729.4 649.2 L740.8 641 L752.2 633.4 L763.7 626.1 L775.1 619.5 L786.5 613.4 L797.9 607.5 L811.5 601.5 L820 598 L828.4 594.8 L837 591.5 L845.7 588.4 L854.3 585.6 L862.9 583 L871.7 580.4 L880.5 578.1 L892.7 575.5 L892.7 810.25 Z" fill="#14a066" fill-opacity="0.1" stroke="#14a066" stroke-opacity="0.1" stroke-width="2.8" stroke-linejoin="round"/>
<path d="M558.1 590.9 C558.78 591.15 568.13 594.73 569.5 595.1 C570.87 595.47 579.59 596.83 580.9 597 C582.21 597.17 590.03 598.02 591.4 598 C592.77 597.98 602.14 596.8 603.8 596.6 C605.46 596.4 617.18 594.89 619 594.7 C620.82 594.51 632.38 593.53 634.2 593.4 C636.02 593.27 647.8 592.66 649.4 592.6 C651 592.54 659.53 592.36 660.9 592.4 C662.27 592.44 670.93 593.06 672.3 593.2 C673.67 593.34 682.1 594.44 683.7 594.7 C685.3 594.96 697.07 597.26 698.9 597.6 C700.73 597.94 712.37 600.06 714.2 600.4 C716.03 600.74 727.58 602.98 729.4 603.3 C731.22 603.62 742.77 605.52 744.6 605.8 C746.43 606.08 758.07 607.74 759.9 608 C761.73 608.26 773.28 609.84 775.1 610.1 C776.92 610.36 788.47 612.12 790.3 612.4 C792.13 612.68 803.77 614.44 805.6 614.7 C807.43 614.96 818.98 616.57 820.8 616.8 C822.62 617.03 834.18 618.31 836 618.5 C837.82 618.69 849.37 619.83 851.2 620 C853.03 620.17 864.67 621.24 866.5 621.4 C868.33 621.56 880.15 622.56 881.7 622.7 C883.25 622.84 891.76 623.64 892.4 623.7" stroke="#14a066" stroke-width="5.2" fill="none" stroke-linejoin="round" stroke-linecap="butt"/>
<circle cx="558.1" cy="590.9" r="6.95" fill="#14a066"/>
<path d="M607 810 L609.1 803.7 L615.2 786.6 L622.8 769.4 L630.4 754.2 L639.9 739 L651.4 722.8 L662.8 708.5 L674.2 696.2 L687.5 683.8 L700.8 672.4 L714.2 660.9 L729.4 649.2 L740.8 641 L752.2 633.4 L763.7 626.1 L775.1 619.5 L786.5 613.4 L797.9 607.5 L811.5 601.5 L820 598 L828.4 594.8 L837 591.5 L845.7 588.4 L854.3 585.6 L862.9 583 L871.7 580.4 L880.5 578.1 L892.7 575.5" stroke="#14a066" stroke-opacity="0.41" stroke-width="3.7" stroke-dasharray="9.2 8.95" stroke-dashoffset="-6.5" fill="none" stroke-linejoin="round"/>
</g>
<path d="M524.9 805.25 v-6.6 M524.9 437.1 v6.6 M543.29 805.25 v-3.9 M543.29 437.1 v3.9 M561.67 805.25 v-3.9 M561.67 437.1 v3.9 M580.06 805.25 v-3.9 M580.06 437.1 v3.9 M598.45 805.25 v-6.6 M598.45 437.1 v6.6 M616.84 805.25 v-3.9 M616.84 437.1 v3.9 M635.22 805.25 v-3.9 M635.22 437.1 v3.9 M653.61 805.25 v-3.9 M653.61 437.1 v3.9 M672 805.25 v-6.6 M672 437.1 v6.6 M690.39 805.25 v-3.9 M690.39 437.1 v3.9 M708.77 805.25 v-3.9 M708.77 437.1 v3.9 M727.16 805.25 v-3.9 M727.16 437.1 v3.9 M745.55 805.25 v-6.6 M745.55 437.1 v6.6 M763.94 805.25 v-3.9 M763.94 437.1 v3.9 M782.33 805.25 v-3.9 M782.33 437.1 v3.9 M800.71 805.25 v-3.9 M800.71 437.1 v3.9 M819.1 805.25 v-6.6 M819.1 437.1 v6.6 M837.49 805.25 v-3.9 M837.49 437.1 v3.9 M855.88 805.25 v-3.9 M855.88 437.1 v3.9 M874.26 805.25 v-3.9 M874.26 437.1 v3.9 M892.65 805.25 v-6.6 M892.65 437.1 v6.6 M524.9 448.95 h6.4 M892.65 448.95 h-6.4 M524.9 567.76 h6.4 M892.65 567.76 h-6.4 M524.9 531.99 h6.4 M892.65 531.99 h-6.4 M524.9 511.07 h6.4 M892.65 511.07 h-6.4 M524.9 496.23 h6.4 M892.65 496.23 h-6.4 M524.9 484.72 h6.4 M892.65 484.72 h-6.4 M524.9 475.31 h6.4 M892.65 475.31 h-6.4 M524.9 467.35 h6.4 M892.65 467.35 h-6.4 M524.9 460.46 h6.4 M892.65 460.46 h-6.4 M524.9 454.39 h6.4 M892.65 454.39 h-6.4 M524.9 686.57 h6.4 M892.65 686.57 h-6.4 M524.9 650.8 h6.4 M892.65 650.8 h-6.4 M524.9 629.88 h6.4 M892.65 629.88 h-6.4 M524.9 615.04 h6.4 M892.65 615.04 h-6.4 M524.9 603.53 h6.4 M892.65 603.53 h-6.4 M524.9 594.12 h6.4 M892.65 594.12 h-6.4 M524.9 586.16 h6.4 M892.65 586.16 h-6.4 M524.9 579.27 h6.4 M892.65 579.27 h-6.4 M524.9 573.2 h6.4 M892.65 573.2 h-6.4 M524.9 805.38 h6.4 M892.65 805.38 h-6.4 M524.9 769.61 h6.4 M892.65 769.61 h-6.4 M524.9 748.69 h6.4 M892.65 748.69 h-6.4 M524.9 733.85 h6.4 M892.65 733.85 h-6.4 M524.9 722.34 h6.4 M892.65 722.34 h-6.4 M524.9 712.93 h6.4 M892.65 712.93 h-6.4 M524.9 704.97 h6.4 M892.65 704.97 h-6.4 M524.9 698.08 h6.4 M892.65 698.08 h-6.4 M524.9 692.01 h6.4 M892.65 692.01 h-6.4" stroke="#000000" stroke-width="1.9" fill="none"/>
<g clip-path="url(#cp11)">
<rect x="524.9" y="665.5" width="367.75" height="139.75" fill="#f0a030" fill-opacity="0.1"/>
<path d="M524.9 665.5 H892.65" stroke="#f0a030" stroke-opacity="0.1" stroke-width="2.8" fill="none"/>
<path d="M524.9 665.5 H892.65" stroke="#f1c076" stroke-width="4.05" stroke-dasharray="7.55 3.35 2.05 3.4" stroke-dashoffset="0" fill="none"/>
</g>
<rect x="524.9" y="437.1" width="367.75" height="368.15" fill="none" stroke="#000000" stroke-width="2.2"/>
<g clip-path="url(#cp12)">
<path d="M1015.95 437.1 V805.25" stroke="#000000" stroke-opacity="0.115" stroke-width="1.35" fill="none"/>
<path d="M1089.5 437.1 V805.25" stroke="#000000" stroke-opacity="0.115" stroke-width="1.35" fill="none"/>
<path d="M1163.05 437.1 V805.25" stroke="#000000" stroke-opacity="0.115" stroke-width="1.35" fill="none"/>
<path d="M1236.6 437.1 V805.25" stroke="#000000" stroke-opacity="0.115" stroke-width="1.35" fill="none"/>
<path d="M942.3 448.65 H1310.05" stroke="#000000" stroke-opacity="0.115" stroke-width="1.35" fill="none"/>
<path d="M942.3 567.46 H1310.05" stroke="#000000" stroke-opacity="0.115" stroke-width="1.35" fill="none"/>
<path d="M942.3 686.27 H1310.05" stroke="#000000" stroke-opacity="0.115" stroke-width="1.35" fill="none"/>
<path d="M953.5 810.25 L953.5 738.9 L956.4 716.7 L959.2 696.5 L962.2 674.4 L965.2 656.2 L966.4 650 L971.2 630.4 L975.9 613.3 L982.6 598 L990.2 584.7 L999.7 573.3 L1011.1 562.8 L1022.6 554.2 L1037.8 545.7 L1053 539.6 L1068.3 535.2 L1087.3 529.9 L1106.3 524.7 L1125.4 520.9 L1144.4 517.7 L1163.4 515.2 L1182.5 513.3 L1201.5 511.4 L1220.6 509.7 L1239.6 508.6 L1258.6 507.6 L1277.7 506.8 L1296.7 506.3 L1309.6 505.9 L1309.6 810.25 Z" fill="#14a066" fill-opacity="0.1" stroke="#14a066" stroke-opacity="0.1" stroke-width="2.8" stroke-linejoin="round"/>
<path d="M975.4 525.1 C976 524.91 984.06 522.07 985.4 521.9 C986.74 521.73 996.26 522.21 997.8 522.3 C999.34 522.39 1009.84 523.27 1011.1 523.4 C1012.36 523.53 1017.77 524.17 1018.8 524.4 C1019.83 524.63 1027.16 526.76 1028.3 527.2 C1029.44 527.64 1036.55 531.21 1037.8 531.8 C1039.05 532.39 1047.95 536.49 1049.2 537.1 C1050.45 537.71 1057.55 541.27 1058.7 541.9 C1059.85 542.53 1067.27 546.98 1068.3 547.6 C1069.33 548.22 1074.76 551.69 1075.9 552.3 C1077.04 552.91 1086.05 557.09 1087.3 557.7 C1088.55 558.31 1095.66 561.81 1096.8 562.4 C1097.94 562.99 1105.04 567.03 1106.3 567.6 C1107.56 568.17 1116.2 571.33 1117.8 571.9 C1119.4 572.47 1131.18 576.54 1133 577.1 C1134.82 577.66 1146.38 580.73 1148.2 581.3 C1150.02 581.87 1161.57 586.05 1163.4 586.6 C1165.23 587.15 1176.87 589.98 1178.7 590.4 C1180.53 590.82 1192.08 593.23 1193.9 593.6 C1195.72 593.97 1207.27 596.18 1209.1 596.5 C1210.93 596.82 1222.57 598.7 1224.4 599 C1226.23 599.3 1237.55 601.16 1239.6 601.5 C1241.65 601.84 1256.31 604.26 1258.6 604.7 C1260.89 605.14 1275.41 608.41 1277.7 608.9 C1279.99 609.39 1294.79 612.52 1296.7 612.9 C1298.61 613.28 1308.83 615.16 1309.6 615.3" stroke="#14a066" stroke-width="5.2" fill="none" stroke-linejoin="round" stroke-linecap="butt"/>
<circle cx="975.4" cy="525.1" r="6.95" fill="#14a066"/>
<path d="M953.5 738.9 L956.4 716.7 L959.2 696.5 L962.2 674.4 L965.2 656.2 L966.4 650 L971.2 630.4 L975.9 613.3 L982.6 598 L990.2 584.7 L999.7 573.3 L1011.1 562.8 L1022.6 554.2 L1037.8 545.7 L1053 539.6 L1068.3 535.2 L1087.3 529.9 L1106.3 524.7 L1125.4 520.9 L1144.4 517.7 L1163.4 515.2 L1182.5 513.3 L1201.5 511.4 L1220.6 509.7 L1239.6 508.6 L1258.6 507.6 L1277.7 506.8 L1296.7 506.3 L1309.6 505.9" stroke="#14a066" stroke-opacity="0.41" stroke-width="3.7" stroke-dasharray="9.2 8.95" stroke-dashoffset="-2.1" fill="none" stroke-linejoin="round"/>
</g>
<path d="M942.3 805.25 v-6.6 M942.3 437.1 v6.6 M960.69 805.25 v-3.9 M960.69 437.1 v3.9 M979.07 805.25 v-3.9 M979.07 437.1 v3.9 M997.46 805.25 v-3.9 M997.46 437.1 v3.9 M1015.85 805.25 v-6.6 M1015.85 437.1 v6.6 M1034.24 805.25 v-3.9 M1034.24 437.1 v3.9 M1052.62 805.25 v-3.9 M1052.62 437.1 v3.9 M1071.01 805.25 v-3.9 M1071.01 437.1 v3.9 M1089.4 805.25 v-6.6 M1089.4 437.1 v6.6 M1107.79 805.25 v-3.9 M1107.79 437.1 v3.9 M1126.17 805.25 v-3.9 M1126.17 437.1 v3.9 M1144.56 805.25 v-3.9 M1144.56 437.1 v3.9 M1162.95 805.25 v-6.6 M1162.95 437.1 v6.6 M1181.34 805.25 v-3.9 M1181.34 437.1 v3.9 M1199.72 805.25 v-3.9 M1199.72 437.1 v3.9 M1218.11 805.25 v-3.9 M1218.11 437.1 v3.9 M1236.5 805.25 v-6.6 M1236.5 437.1 v6.6 M1254.89 805.25 v-3.9 M1254.89 437.1 v3.9 M1273.27 805.25 v-3.9 M1273.27 437.1 v3.9 M1291.66 805.25 v-3.9 M1291.66 437.1 v3.9 M1310.05 805.25 v-6.6 M1310.05 437.1 v6.6 M942.3 448.95 h6.4 M1310.05 448.95 h-6.4 M942.3 567.76 h6.4 M1310.05 567.76 h-6.4 M942.3 531.99 h6.4 M1310.05 531.99 h-6.4 M942.3 511.07 h6.4 M1310.05 511.07 h-6.4 M942.3 496.23 h6.4 M1310.05 496.23 h-6.4 M942.3 484.72 h6.4 M1310.05 484.72 h-6.4 M942.3 475.31 h6.4 M1310.05 475.31 h-6.4 M942.3 467.35 h6.4 M1310.05 467.35 h-6.4 M942.3 460.46 h6.4 M1310.05 460.46 h-6.4 M942.3 454.39 h6.4 M1310.05 454.39 h-6.4 M942.3 686.57 h6.4 M1310.05 686.57 h-6.4 M942.3 650.8 h6.4 M1310.05 650.8 h-6.4 M942.3 629.88 h6.4 M1310.05 629.88 h-6.4 M942.3 615.04 h6.4 M1310.05 615.04 h-6.4 M942.3 603.53 h6.4 M1310.05 603.53 h-6.4 M942.3 594.12 h6.4 M1310.05 594.12 h-6.4 M942.3 586.16 h6.4 M1310.05 586.16 h-6.4 M942.3 579.27 h6.4 M1310.05 579.27 h-6.4 M942.3 573.2 h6.4 M1310.05 573.2 h-6.4 M942.3 805.38 h6.4 M1310.05 805.38 h-6.4 M942.3 769.61 h6.4 M1310.05 769.61 h-6.4 M942.3 748.69 h6.4 M1310.05 748.69 h-6.4 M942.3 733.85 h6.4 M1310.05 733.85 h-6.4 M942.3 722.34 h6.4 M1310.05 722.34 h-6.4 M942.3 712.93 h6.4 M1310.05 712.93 h-6.4 M942.3 704.97 h6.4 M1310.05 704.97 h-6.4 M942.3 698.08 h6.4 M1310.05 698.08 h-6.4 M942.3 692.01 h6.4 M1310.05 692.01 h-6.4" stroke="#000000" stroke-width="1.9" fill="none"/>
<g clip-path="url(#cp12)">
<rect x="942.3" y="563.8" width="367.75" height="241.45" fill="#f0a030" fill-opacity="0.1"/>
<path d="M942.3 563.8 H1310.05" stroke="#f0a030" stroke-opacity="0.1" stroke-width="2.8" fill="none"/>
<path d="M942.3 563.8 H1310.05" stroke="#f1c076" stroke-width="4.05" stroke-dasharray="7.55 3.35 2.05 3.4" stroke-dashoffset="0" fill="none"/>
</g>
<rect x="942.3" y="437.1" width="367.75" height="368.15" fill="none" stroke="#000000" stroke-width="2.2"/>
<g clip-path="url(#cp13)">
<path d="M1433.4 437.1 V805.25" stroke="#000000" stroke-opacity="0.115" stroke-width="1.35" fill="none"/>
<path d="M1507 437.1 V805.25" stroke="#000000" stroke-opacity="0.115" stroke-width="1.35" fill="none"/>
<path d="M1580.6 437.1 V805.25" stroke="#000000" stroke-opacity="0.115" stroke-width="1.35" fill="none"/>
<path d="M1654.2 437.1 V805.25" stroke="#000000" stroke-opacity="0.115" stroke-width="1.35" fill="none"/>
<path d="M1359.7 448.65 H1727.7" stroke="#000000" stroke-opacity="0.115" stroke-width="1.35" fill="none"/>
<path d="M1359.7 567.46 H1727.7" stroke="#000000" stroke-opacity="0.115" stroke-width="1.35" fill="none"/>
<path d="M1359.7 686.27 H1727.7" stroke="#000000" stroke-opacity="0.115" stroke-width="1.35" fill="none"/>
<path d="M1387.4 810.25 L1387.4 810 L1387.9 803.7 L1389.8 784.7 L1392.7 761.8 L1395.5 744.7 L1399.3 727.6 L1403.2 710.4 L1407.9 695.2 L1414.6 680 L1425 664.7 L1430.8 657 L1437.6 646.2 L1447.1 631 L1456.6 617.6 L1468 606.2 L1479.4 596.66 L1490.9 588 L1502.3 580.35 L1513.7 574.6 L1525.1 568.84 L1536.6 563.59 L1548 559.24 L1559.4 555.38 L1570.8 552.03 L1582.2 548.98 L1597.5 545.11 L1616.5 540.82 L1635.6 536.93 L1654.6 533.54 L1673.6 530.65 L1692.7 528.46 L1711.7 526.67 L1726.8 525.3 L1726.8 810.25 Z" fill="#14a066" fill-opacity="0.1" stroke="#14a066" stroke-opacity="0.1" stroke-width="2.8" stroke-linejoin="round"/>
<path d="M1392.8 594.6 C1393.43 594.29 1401.99 590.11 1403.3 589.5 C1404.61 588.89 1413.33 584.75 1414.7 584.5 C1416.07 584.25 1424.95 585 1426.1 585.3 C1427.25 585.6 1432.65 588.85 1433.8 589.57 C1434.95 590.29 1443.83 596.43 1445.2 597.3 C1446.57 598.17 1455.23 603.26 1456.6 604 C1457.97 604.74 1466.63 609.02 1468 609.7 C1469.37 610.38 1478.03 614.68 1479.4 615.4 C1480.77 616.12 1489.53 620.96 1490.9 621.7 C1492.27 622.44 1500.93 627.13 1502.3 627.8 C1503.67 628.47 1512.33 632.33 1513.7 632.9 C1515.07 633.47 1523.73 636.79 1525.1 637.28 C1526.47 637.77 1535.23 640.58 1536.6 641.03 C1537.97 641.48 1546.63 644.27 1548 644.78 C1549.37 645.29 1558.03 648.98 1559.4 649.53 C1560.77 650.08 1569.43 653.41 1570.8 653.88 C1572.17 654.35 1580.83 657.05 1582.2 657.43 C1583.57 657.81 1591.87 659.89 1593.7 660.28 C1595.53 660.67 1610.42 663.52 1612.7 664 C1614.98 664.48 1629.41 667.8 1631.7 668.32 C1633.99 668.84 1648.51 672.12 1650.8 672.63 C1653.09 673.14 1667.52 676.28 1669.8 676.75 C1672.08 677.22 1686.51 679.99 1688.8 680.47 C1691.09 680.95 1705.62 684.27 1707.9 684.79 C1710.18 685.31 1725.67 688.94 1726.8 689.2" stroke="#14a066" stroke-width="5.2" fill="none" stroke-linejoin="round" stroke-linecap="butt"/>
<circle cx="1392.8" cy="594.6" r="6.95" fill="#14a066"/>
<path d="M1387.4 810 L1387.9 803.7 L1389.8 784.7 L1392.7 761.8 L1395.5 744.7 L1399.3 727.6 L1403.2 710.4 L1407.9 695.2 L1414.6 680 L1425 664.7 L1430.8 657 L1437.6 646.2 L1447.1 631 L1456.6 617.6 L1468 606.2 L1479.4 596.66 L1490.9 588 L1502.3 580.35 L1513.7 574.6 L1525.1 568.84 L1536.6 563.59 L1548 559.24 L1559.4 555.38 L1570.8 552.03 L1582.2 548.98 L1597.5 545.11 L1616.5 540.82 L1635.6 536.93 L1654.6 533.54 L1673.6 530.65 L1692.7 528.46 L1711.7 526.67 L1726.8 525.3" stroke="#14a066" stroke-opacity="0.41" stroke-width="3.7" stroke-dasharray="9.2 8.95" stroke-dashoffset="-7.1" fill="none" stroke-linejoin="round"/>
</g>
<path d="M1359.7 805.25 v-6.6 M1359.7 437.1 v6.6 M1378.1 805.25 v-3.9 M1378.1 437.1 v3.9 M1396.5 805.25 v-3.9 M1396.5 437.1 v3.9 M1414.9 805.25 v-3.9 M1414.9 437.1 v3.9 M1433.3 805.25 v-6.6 M1433.3 437.1 v6.6 M1451.7 805.25 v-3.9 M1451.7 437.1 v3.9 M1470.1 805.25 v-3.9 M1470.1 437.1 v3.9 M1488.5 805.25 v-3.9 M1488.5 437.1 v3.9 M1506.9 805.25 v-6.6 M1506.9 437.1 v6.6 M1525.3 805.25 v-3.9 M1525.3 437.1 v3.9 M1543.7 805.25 v-3.9 M1543.7 437.1 v3.9 M1562.1 805.25 v-3.9 M1562.1 437.1 v3.9 M1580.5 805.25 v-6.6 M1580.5 437.1 v6.6 M1598.9 805.25 v-3.9 M1598.9 437.1 v3.9 M1617.3 805.25 v-3.9 M1617.3 437.1 v3.9 M1635.7 805.25 v-3.9 M1635.7 437.1 v3.9 M1654.1 805.25 v-6.6 M1654.1 437.1 v6.6 M1672.5 805.25 v-3.9 M1672.5 437.1 v3.9 M1690.9 805.25 v-3.9 M1690.9 437.1 v3.9 M1709.3 805.25 v-3.9 M1709.3 437.1 v3.9 M1727.7 805.25 v-6.6 M1727.7 437.1 v6.6 M1359.7 448.95 h6.4 M1727.7 448.95 h-6.4 M1359.7 567.76 h6.4 M1727.7 567.76 h-6.4 M1359.7 531.99 h6.4 M1727.7 531.99 h-6.4 M1359.7 511.07 h6.4 M1727.7 511.07 h-6.4 M1359.7 496.23 h6.4 M1727.7 496.23 h-6.4 M1359.7 484.72 h6.4 M1727.7 484.72 h-6.4 M1359.7 475.31 h6.4 M1727.7 475.31 h-6.4 M1359.7 467.35 h6.4 M1727.7 467.35 h-6.4 M1359.7 460.46 h6.4 M1727.7 460.46 h-6.4 M1359.7 454.39 h6.4 M1727.7 454.39 h-6.4 M1359.7 686.57 h6.4 M1727.7 686.57 h-6.4 M1359.7 650.8 h6.4 M1727.7 650.8 h-6.4 M1359.7 629.88 h6.4 M1727.7 629.88 h-6.4 M1359.7 615.04 h6.4 M1727.7 615.04 h-6.4 M1359.7 603.53 h6.4 M1727.7 603.53 h-6.4 M1359.7 594.12 h6.4 M1727.7 594.12 h-6.4 M1359.7 586.16 h6.4 M1727.7 586.16 h-6.4 M1359.7 579.27 h6.4 M1727.7 579.27 h-6.4 M1359.7 573.2 h6.4 M1727.7 573.2 h-6.4 M1359.7 805.38 h6.4 M1727.7 805.38 h-6.4 M1359.7 769.61 h6.4 M1727.7 769.61 h-6.4 M1359.7 748.69 h6.4 M1727.7 748.69 h-6.4 M1359.7 733.85 h6.4 M1727.7 733.85 h-6.4 M1359.7 722.34 h6.4 M1727.7 722.34 h-6.4 M1359.7 712.93 h6.4 M1727.7 712.93 h-6.4 M1359.7 704.97 h6.4 M1727.7 704.97 h-6.4 M1359.7 698.08 h6.4 M1727.7 698.08 h-6.4 M1359.7 692.01 h6.4 M1727.7 692.01 h-6.4" stroke="#000000" stroke-width="1.9" fill="none"/>
<g clip-path="url(#cp13)">
<rect x="1359.7" y="695.35" width="368" height="109.9" fill="#f0a030" fill-opacity="0.1"/>
<path d="M1359.7 695.35 H1727.7" stroke="#f0a030" stroke-opacity="0.1" stroke-width="2.8" fill="none"/>
<path d="M1359.7 695.35 H1727.7" stroke="#f1c076" stroke-width="4.05" stroke-dasharray="7.55 3.35 2.05 3.4" stroke-dashoffset="0" fill="none"/>
</g>
<rect x="1359.7" y="437.1" width="368" height="368.15" fill="none" stroke="#000000" stroke-width="2.2"/>
<text transform="translate(55.3 52.55) rotate(0.03) scale(1 1.027)" font-family='"Liberation Serif", "DejaVu Serif", serif' font-size="29" fill="#000">1.0</text>
<text transform="translate(55.4 168.86) rotate(0.03) scale(1 1.027)" font-family='"Liberation Serif", "DejaVu Serif", serif' font-size="29" fill="#000">10<tspan font-size="17.4" dx="-0.5" dy="-11.1">-1</tspan></text>
<text transform="translate(55.4 287.67) rotate(0.03) scale(1 1.027)" font-family='"Liberation Serif", "DejaVu Serif", serif' font-size="29" fill="#000">10<tspan font-size="17.4" dx="-0.5" dy="-11.1">-2</tspan></text>
<text transform="translate(55.4 406.48) rotate(0.03) scale(1 1.027)" font-family='"Liberation Serif", "DejaVu Serif", serif' font-size="29" fill="#000">10<tspan font-size="17.4" dx="-0.5" dy="-11.1">-3</tspan></text>
<text transform="translate(55.3 458.05) rotate(0.03) scale(1 1.027)" font-family='"Liberation Serif", "DejaVu Serif", serif' font-size="29" fill="#000">1.0</text>
<text transform="translate(55.4 574.36) rotate(0.03) scale(1 1.027)" font-family='"Liberation Serif", "DejaVu Serif", serif' font-size="29" fill="#000">10<tspan font-size="17.4" dx="-0.5" dy="-11.1">-1</tspan></text>
<text transform="translate(55.4 693.17) rotate(0.03) scale(1 1.027)" font-family='"Liberation Serif", "DejaVu Serif", serif' font-size="29" fill="#000">10<tspan font-size="17.4" dx="-0.5" dy="-11.1">-2</tspan></text>
<text transform="translate(55.4 811.98) rotate(0.03) scale(1 1.027)" font-family='"Liberation Serif", "DejaVu Serif", serif' font-size="29" fill="#000">10<tspan font-size="17.4" dx="-0.5" dy="-11.1">-3</tspan></text>
<text transform="translate(112.25 840.05) rotate(0.03) scale(1 1.027)" text-anchor="middle" font-family='"Liberation Serif", "DejaVu Serif", serif' font-size="29" fill="#000">0.0</text>
<text transform="translate(181.13 840.05) rotate(0.03) scale(1 1.027)" text-anchor="middle" font-family='"Liberation Serif", "DejaVu Serif", serif' font-size="29" fill="#000">0.2</text>
<text transform="translate(254.66 840.05) rotate(0.03) scale(1 1.027)" text-anchor="middle" font-family='"Liberation Serif", "DejaVu Serif", serif' font-size="29" fill="#000">0.4</text>
<text transform="translate(328.19 840.05) rotate(0.03) scale(1 1.027)" text-anchor="middle" font-family='"Liberation Serif", "DejaVu Serif", serif' font-size="29" fill="#000">0.6</text>
<text transform="translate(401.72 840.05) rotate(0.03) scale(1 1.027)" text-anchor="middle" font-family='"Liberation Serif", "DejaVu Serif", serif' font-size="29" fill="#000">0.8</text>
<text transform="translate(470.25 840.05) rotate(0.03) scale(1 1.027)" text-anchor="middle" font-family='"Liberation Serif", "DejaVu Serif", serif' font-size="29" fill="#000">1.0</text>
<text transform="translate(529.55 840.05) rotate(0.03) scale(1 1.027)" text-anchor="middle" font-family='"Liberation Serif", "DejaVu Serif", serif' font-size="29" fill="#000">0.0</text>
<text transform="translate(598.45 840.05) rotate(0.03) scale(1 1.027)" text-anchor="middle" font-family='"Liberation Serif", "DejaVu Serif", serif' font-size="29" fill="#000">0.2</text>
<text transform="translate(672 840.05) rotate(0.03) scale(1 1.027)" text-anchor="middle" font-family='"Liberation Serif", "DejaVu Serif", serif' font-size="29" fill="#000">0.4</text>
<text transform="translate(745.55 840.05) rotate(0.03) scale(1 1.027)" text-anchor="middle" font-family='"Liberation Serif", "DejaVu Serif", serif' font-size="29" fill="#000">0.6</text>
<text transform="translate(819.1 840.05) rotate(0.03) scale(1 1.027)" text-anchor="middle" font-family='"Liberation Serif", "DejaVu Serif", serif' font-size="29" fill="#000">0.8</text>
<text transform="translate(887.65 840.05) rotate(0.03) scale(1 1.027)" text-anchor="middle" font-family='"Liberation Serif", "DejaVu Serif", serif' font-size="29" fill="#000">1.0</text>
<text transform="translate(946.95 840.05) rotate(0.03) scale(1 1.027)" text-anchor="middle" font-family='"Liberation Serif", "DejaVu Serif", serif' font-size="29" fill="#000">0.0</text>
<text transform="translate(1015.85 840.05) rotate(0.03) scale(1 1.027)" text-anchor="middle" font-family='"Liberation Serif", "DejaVu Serif", serif' font-size="29" fill="#000">0.2</text>
<text transform="translate(1089.4 840.05) rotate(0.03) scale(1 1.027)" text-anchor="middle" font-family='"Liberation Serif", "DejaVu Serif", serif' font-size="29" fill="#000">0.4</text>
<text transform="translate(1162.95 840.05) rotate(0.03) scale(1 1.027)" text-anchor="middle" font-family='"Liberation Serif", "DejaVu Serif", serif' font-size="29" fill="#000">0.6</text>
<text transform="translate(1236.5 840.05) rotate(0.03) scale(1 1.027)" text-anchor="middle" font-family='"Liberation Serif", "DejaVu Serif", serif' font-size="29" fill="#000">0.8</text>
<text transform="translate(1305.05 840.05) rotate(0.03) scale(1 1.027)" text-anchor="middle" font-family='"Liberation Serif", "DejaVu Serif", serif' font-size="29" fill="#000">1.0</text>
<text transform="translate(1364.35 840.05) rotate(0.03) scale(1 1.027)" text-anchor="middle" font-family='"Liberation Serif", "DejaVu Serif", serif' font-size="29" fill="#000">0.0</text>
<text transform="translate(1433.3 840.05) rotate(0.03) scale(1 1.027)" text-anchor="middle" font-family='"Liberation Serif", "DejaVu Serif", serif' font-size="29" fill="#000">0.2</text>
<text transform="translate(1506.9 840.05) rotate(0.03) scale(1 1.027)" text-anchor="middle" font-family='"Liberation Serif", "DejaVu Serif", serif' font-size="29" fill="#000">0.4</text>
<text transform="translate(1580.5 840.05) rotate(0.03) scale(1 1.027)" text-anchor="middle" font-family='"Liberation Serif", "DejaVu Serif", serif' font-size="29" fill="#000">0.6</text>
<text transform="translate(1654.1 840.05) rotate(0.03) scale(1 1.027)" text-anchor="middle" font-family='"Liberation Serif", "DejaVu Serif", serif' font-size="29" fill="#000">0.8</text>
<text transform="translate(1722.7 840.05) rotate(0.03) scale(1 1.027)" text-anchor="middle" font-family='"Liberation Serif", "DejaVu Serif", serif' font-size="29" fill="#000">1.0</text>
<text x="917.0" y="892.1" text-anchor="middle" font-family='"Liberation Serif", "DejaVu Serif", serif' font-size="37.9" fill="#000">Time <tspan font-style="italic">t</tspan></text>
<text transform="translate(26.9 425.5) rotate(-90)" text-anchor="middle" font-family='"Liberation Serif", "DejaVu Serif", serif' font-size="38.1" fill="#000">Probability</text>
<rect x="130.2" y="-0.3" width="143.4" height="62.4" rx="8" ry="8" fill="#f2f2f2"/>
<text x="156.22" y="41.9" font-family='"Liberation Serif", "DejaVu Serif", serif' font-size="32" fill="#000">Messel</text>
<rect x="548" y="-0.3" width="166.7" height="62.4" rx="8" ry="8" fill="#f2f2f2"/>
<text x="574.78" y="41.9" font-family='"Liberation Serif", "DejaVu Serif", serif' font-size="32" fill="#000">YeastBio</text>
<rect x="965" y="-0.3" width="157.7" height="62.4" rx="8" ry="8" fill="#f2f2f2"/>
<text x="990.82" y="41.9" font-family='"Liberation Serif", "DejaVu Serif", serif' font-size="32" fill="#000">Citeseer</text>
<rect x="1382.8" y="-0.3" width="174.1" height="62.4" rx="8" ry="8" fill="#f2f2f2"/>
<text x="1407.22" y="41.9" font-family='"Liberation Serif", "DejaVu Serif", serif' font-size="32" fill="#000">Facebook</text>
<rect x="1764.2" y="95.1" width="238.3" height="238.8" rx="32" ry="32" fill="#f2f2f2"/>
<path d="M1788 143.1 H1836" stroke="#338ccb" stroke-width="5.2" fill="none"/>
<path d="M1788 214.4 H1836" stroke="#ef9573" stroke-width="4.9" stroke-dasharray="9.85 4.2 2.95 4.4" fill="none"/>
<path d="M1788 286.2 H1836" stroke="#338ccb" stroke-opacity="0.41" stroke-width="4.7" stroke-dasharray="9.5 9.1" fill="none"/>
<text transform="translate(1861.73 147.93) scale(0.3185 0.3092)" font-family='"Liberation Serif", "DejaVu Serif", serif' font-size="100" font-style="italic" fill="#000">p</text>
<text transform="translate(1877.02 134.4) scale(0.2707 0.1958)" font-family='"Liberation Serif", "DejaVu Serif", serif' font-size="100" fill="#000">even</text>
<text transform="translate(1877.93 157.45) scale(0.2926 0.2543)" font-family='"Liberation Serif", "DejaVu Serif", serif' font-size="100" fill="#000">C|G</text>
<text font-family='"Liberation Serif", "DejaVu Serif", serif' fill="#000"><tspan x="1931.94" y="148.7" font-size="36.69">(</tspan><tspan x="1942.35" y="147.8" font-size="36.7" font-style="italic">t</tspan><tspan x="1956.11" y="148.7" font-size="36.69">)</tspan></text>
<text transform="translate(1861.73 222.13) scale(0.3185 0.3092)" font-family='"Liberation Serif", "DejaVu Serif", serif' font-size="100" font-style="italic" fill="#000">p</text>
<text y="208.7" font-family='"Liberation Serif", "DejaVu Serif", serif' font-size="25.15" fill="#000"><tspan x="1878.18" font-style="italic">A</tspan><tspan x="1897.53">2</tspan></text>
<text transform="translate(1877.93 231.65) scale(0.2926 0.2543)" font-family='"Liberation Serif", "DejaVu Serif", serif' font-size="100" fill="#000">C|G</text>
<text transform="translate(1861.73 294.13) scale(0.3185 0.3092)" font-family='"Liberation Serif", "DejaVu Serif", serif' font-size="100" font-style="italic" fill="#000">p</text>
<text transform="translate(1877.02 280.6) scale(0.2707 0.1958)" font-family='"Liberation Serif", "DejaVu Serif", serif' font-size="100" fill="#000">even</text>
<text transform="translate(1878.02 303.65) scale(0.2692 0.2543)" font-family='"Liberation Serif", "DejaVu Serif", serif' font-size="100" fill="#000">G</text>
<text font-family='"Liberation Serif", "DejaVu Serif", serif' fill="#000"><tspan x="1931.94" y="294.9" font-size="36.69">(</tspan><tspan x="1942.35" y="294" font-size="36.7" font-style="italic">t</tspan><tspan x="1956.11" y="294.9" font-size="36.69">)</tspan></text>
<rect x="1764.2" y="500.6" width="238.3" height="238.8" rx="32" ry="32" fill="#f2f2f2"/>
<path d="M1788 548.6 H1836" stroke="#14a066" stroke-width="5.2" fill="none"/>
<path d="M1788 619.9 H1836" stroke="#f1c076" stroke-width="4.9" stroke-dasharray="9.85 4.2 2.95 4.4" fill="none"/>
<path d="M1788 691.7 H1836" stroke="#14a066" stroke-opacity="0.41" stroke-width="4.7" stroke-dasharray="9.5 9.1" fill="none"/>
<text transform="translate(1861.73 556.13) scale(0.3185 0.3092)" font-family='"Liberation Serif", "DejaVu Serif", serif' font-size="100" font-style="italic" fill="#000">p</text>
<text transform="translate(1877.03 542.57) scale(0.2862 0.2340)" font-family='"Liberation Serif", "DejaVu Serif", serif' font-size="100" fill="#000">odd</text>
<text transform="translate(1877.93 565.65) scale(0.2926 0.2543)" font-family='"Liberation Serif", "DejaVu Serif", serif' font-size="100" fill="#000">C|G</text>
<text font-family='"Liberation Serif", "DejaVu Serif", serif' fill="#000"><tspan x="1927.74" y="556.9" font-size="36.69">(</tspan><tspan x="1938.15" y="556" font-size="36.7" font-style="italic">t</tspan><tspan x="1951.91" y="556.9" font-size="36.69">)</tspan></text>
<text transform="translate(1861.73 627.43) scale(0.3185 0.3092)" font-family='"Liberation Serif", "DejaVu Serif", serif' font-size="100" font-style="italic" fill="#000">p</text>
<text y="614" font-family='"Liberation Serif", "DejaVu Serif", serif' font-size="25.15" fill="#000"><tspan x="1878.18" font-style="italic">A</tspan><tspan x="1897.41">3</tspan></text>
<text transform="translate(1877.93 636.95) scale(0.2926 0.2543)" font-family='"Liberation Serif", "DejaVu Serif", serif' font-size="100" fill="#000">C|G</text>
<text transform="translate(1861.73 702.03) scale(0.3185 0.3092)" font-family='"Liberation Serif", "DejaVu Serif", serif' font-size="100" font-style="italic" fill="#000">p</text>
<text transform="translate(1877.03 688.47) scale(0.2862 0.2340)" font-family='"Liberation Serif", "DejaVu Serif", serif' font-size="100" fill="#000">odd</text>
<text transform="translate(1878.02 711.55) scale(0.2692 0.2543)" font-family='"Liberation Serif", "DejaVu Serif", serif' font-size="100" fill="#000">G</text>
<text font-family='"Liberation Serif", "DejaVu Serif", serif' fill="#000"><tspan x="1923.74" y="702.8" font-size="36.69">(</tspan><tspan x="1934.15" y="701.9" font-size="36.7" font-style="italic">t</tspan><tspan x="1947.91" y="702.8" font-size="36.69">)</tspan></text>
</svg>
</body>
</html>
